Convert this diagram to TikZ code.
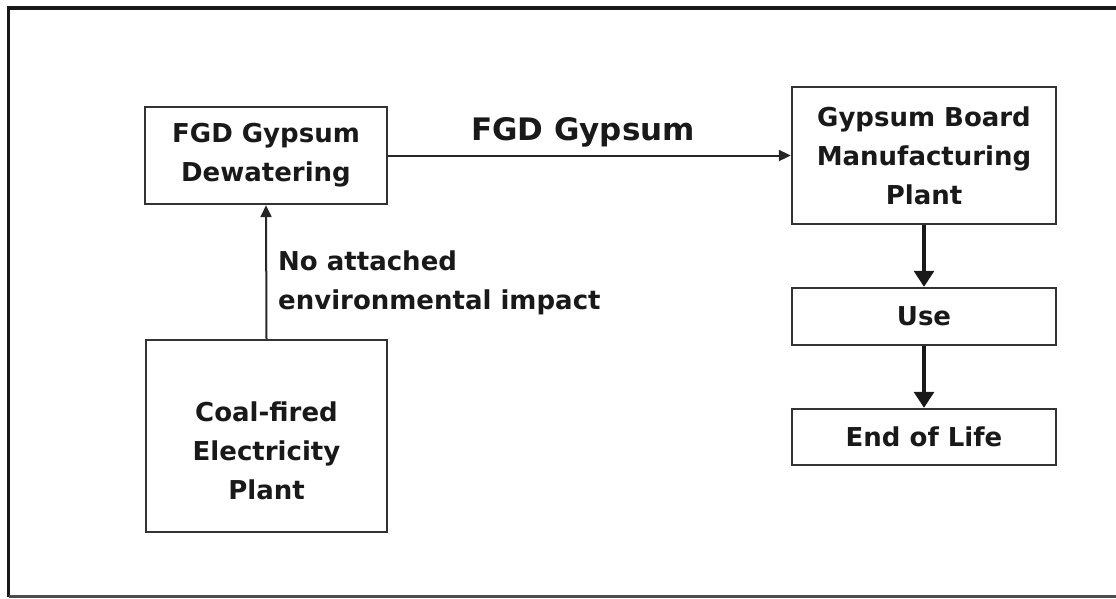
\documentclass[tikz,border=0pt]{standalone}
\usepackage{fontspec}
\setmainfont{DejaVu Sans}
\usetikzlibrary{positioning,arrows.meta}

\begin{document}
\begin{tikzpicture}[x=1pt,y=-1pt,
  box/.style={draw=black!80,line width=2.4pt,inner sep=0pt,align=center,
    font=\fontsize{26}{39}\selectfont\bfseries,text=black!90},
  boxtext/.style={inner sep=0pt,align=center,font=\fontsize{26}{39}\selectfont\bfseries,text=black!90},
  flow/.style={draw=black!85,line width=2pt,-{Triangle[length=12pt,width=11pt]}},
  bigflow/.style={draw=black!90,line width=3.2pt,-{Triangle[length=16pt,width=20pt]}}]
\useasboundingbox (0,0) rectangle (1116,598);
% outer frame (open on the right)
\draw[line width=3.5pt,black!90] (1116,8) -- (8.5,8) -- (8.5,597);
\draw[line width=2.2pt,black!70] (8.5,596.5) -- (1116,596.5);
% left column
\node[box,minimum width=242pt,minimum height=97pt] (dewater) at (266,155.5) {FGD Gypsum\\Dewatering};
\node[box,minimum width=241pt,minimum height=192pt] (coal) at (266.5,436) {};
\node[boxtext] (coaltxt) at (266.5,451) {Coal-fired\\Electricity\\Plant};
% right column
\node[box,minimum width=264pt,minimum height=137pt] (board) at (924,155.5) {Gypsum Board\\Manufacturing\\Plant};
\node[box,minimum width=264pt,minimum height=57pt] (use) at (924,316.5) {Use};
\node[box,minimum width=264pt,minimum height=56pt] (eol) at (924,437) {End of Life};
% connectors
\draw[flow] (coal.north) -- (dewater.south);
\draw[flow] (dewater.east) -- (board.west);
\draw[bigflow] (board.south) -- (use.north);
\draw[bigflow] (use.south) -- (eol.north);
% labels
\node[boxtext,font=\fontsize{31}{36}\selectfont\bfseries] (gyplbl) at (583,132) {FGD Gypsum};
\node[boxtext,anchor=north west,align=left] (implbl) at (278,251) {No attached\\environmental impact};
\end{tikzpicture}
\end{document}
